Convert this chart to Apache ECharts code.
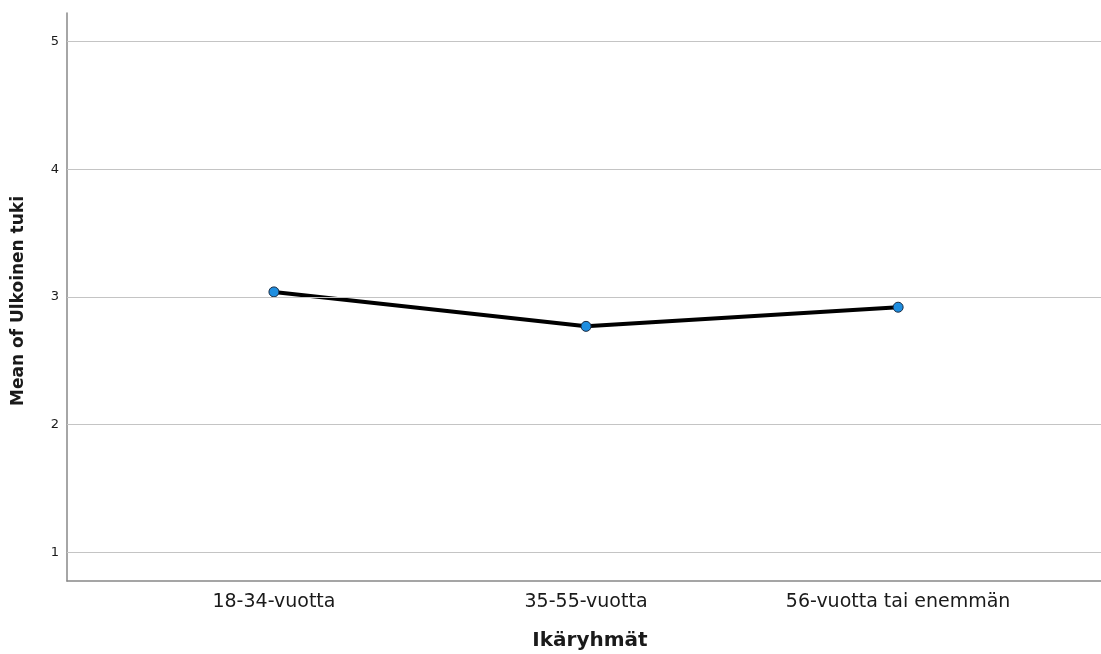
<!DOCTYPE html>
<html>
<head>
<meta charset="utf-8">
<script src="https://cdn.jsdelivr.net/npm/echarts@6/dist/echarts.min.js"></script>
<style>
  html, body { margin: 0; padding: 0; background: #fff; }
  #chart { width: 1101px; height: 654px; }
</style>
</head>
<body>
<div id="chart"></div>
<script>
const categories = ['18-34-vuotta', '35-55-vuotta', '56-vuotta tai enemmän'];
const meanValues = [3.04, 2.77, 2.92];
const yTicks = [1, 2, 3, 4, 5];

function renderChart() {
    const chart = echarts.init(document.getElementById('chart'));
    const fontFamily = '"DejaVu Sans", sans-serif';

    const option = {
        animation: false,
        grid: {
            left: 67,
            right: 0,
            top: 13,
            bottom: 73,
            outerBoundsMode: 'none',
            containLabel: false
        },
        xAxis: {
            type: 'value',
            min: -0.663,
            max: 2.65,
            name: 'Ikäryhmät',
            nameLocation: 'middle',
            nameGap: 50,
            nameTextStyle: { fontFamily: fontFamily, fontWeight: 'bold', fontSize: 20, color: '#1a1a1a', padding: [0, 0, 0, 12] },
            axisLine: { show: true, onZero: false, lineStyle: { color: '#888', width: 1.5 } },
            axisTick: { show: false },
            splitLine: { show: false },
            axisLabel: {
                customValues: [0, 1, 2],
                formatter: v => categories[Math.round(v)],
                fontFamily: fontFamily,
                fontSize: 19,
                color: '#1a1a1a',
                margin: 12
            }
        },
        yAxis: {
            type: 'value',
            min: 0.775,
            max: 5.225,
            name: 'Mean of Ulkoinen tuki',
            nameLocation: 'middle',
            nameGap: 40,
            nameTextStyle: { fontFamily: fontFamily, fontWeight: 'bold', fontSize: 17, color: '#1a1a1a', padding: [0, 8, 0, 0] },
            axisLine: { show: true, onZero: false, lineStyle: { color: '#888', width: 1.5 } },
            axisTick: { show: false },
            axisLabel: {
                customValues: yTicks,
                fontFamily: fontFamily,
                fontSize: 13,
                color: '#1a1a1a',
                margin: 8
            },
            splitLine: { show: false }
        },
        series: [
            {
                type: 'line',
                data: meanValues.map((v, i) => [i, v]),
                symbol: 'circle',
                symbolSize: 10,
                lineStyle: { color: '#000', width: 4 },
                itemStyle: { color: '#1e8ee0', borderColor: '#1a2a40', borderWidth: 1 },
                z: 3
            },
            {
                // horizontal gridlines at the y ticks
                type: 'line',
                data: [],
                silent: true,
                markLine: {
                    symbol: 'none',
                    silent: true,
                    label: { show: false },
                    lineStyle: { color: '#c4c4c4', width: 1.2, type: 'solid' },
                    data: yTicks.map(t => ({ yAxis: t }))
                },
                z: 1
            }
        ]
    };

    chart.setOption(option);
}

document.addEventListener('DOMContentLoaded', renderChart);
</script>
</body>
</html>
